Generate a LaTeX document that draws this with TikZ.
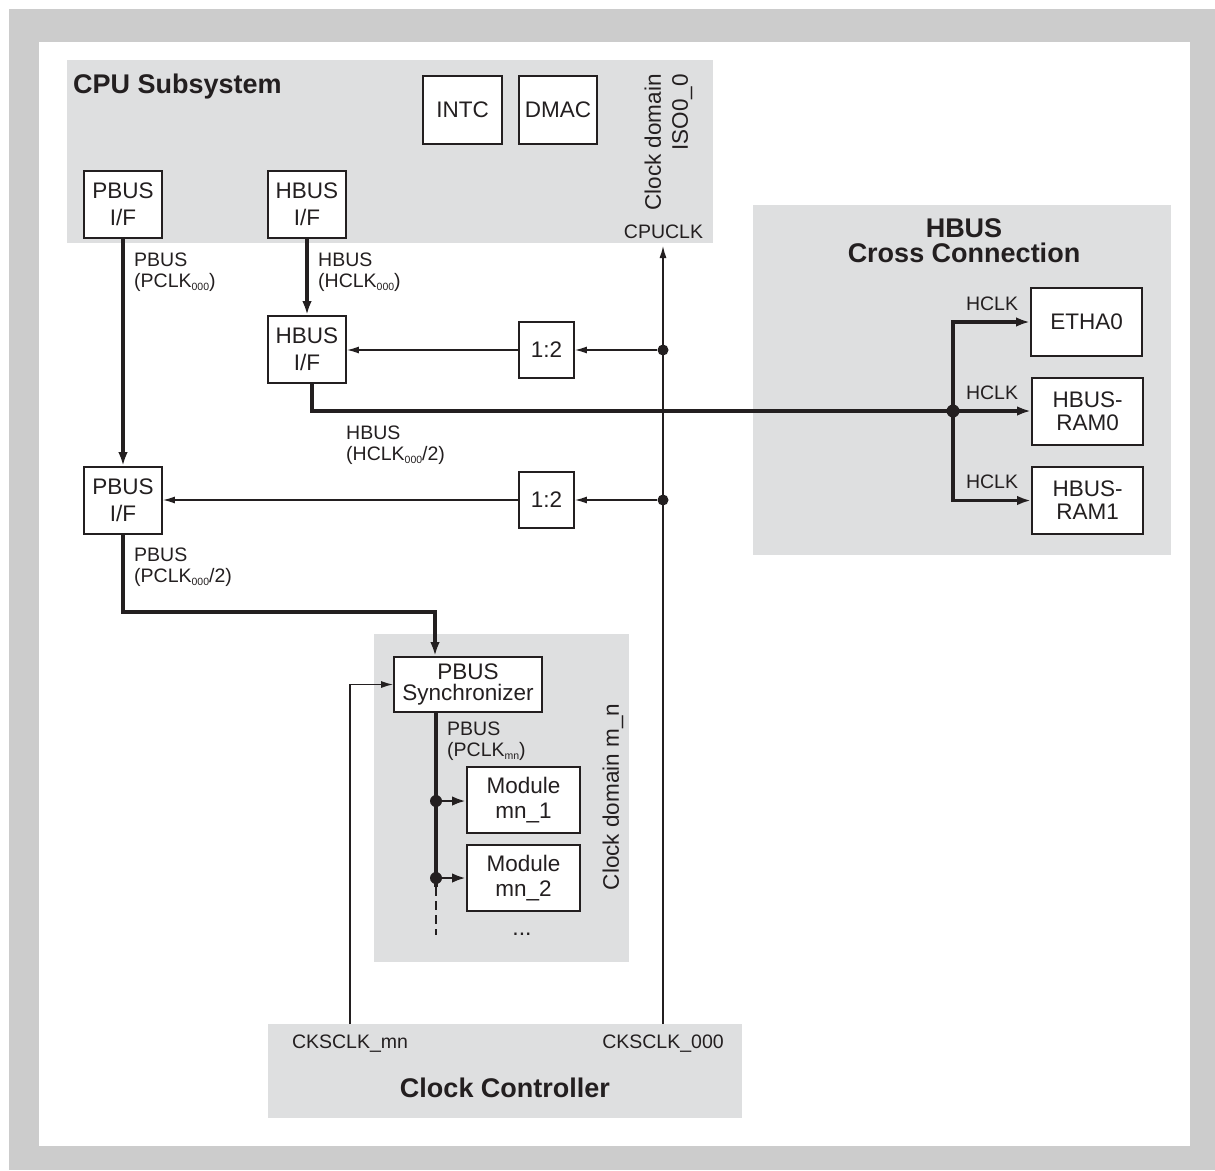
\documentclass[tikz,border=0pt]{standalone}
\usepackage{fontspec}
\setmainfont{Liberation Sans}
\usetikzlibrary{arrows.meta,calc}
\definecolor{ink}{HTML}{231F20}
\definecolor{framegray}{HTML}{CCCCCC}
\definecolor{zonegray}{HTML}{DEDFE0}
% lowered small index used in clock names
\newcommand{\lowsub}[1]{\raisebox{-3.5pt}{\fontsize{10.5}{10.5}\selectfont #1}}

\begin{document}
\begin{tikzpicture}[x=1pt,y=-1pt,
  zone/.style={fill=zonegray, draw=none, anchor=north west, inner sep=0pt},
  block/.style={draw=ink, line width=1.8pt, fill=white, text=ink, align=center,
    inner sep=0pt, font=\fontsize{22.5}{#1}\selectfont},
  block/.default=27,
  lbl/.style={text=ink, align=left, inner sep=0pt, anchor=north west,
    font=\fontsize{19.5}{20.5}\selectfont},
  tag/.style={text=ink, inner sep=0pt, font=\fontsize{19.5}{20}\selectfont},
  title/.style={text=ink, inner sep=0pt, align=center,
    font=\fontsize{27}{25}\selectfont\bfseries},
  vtext/.style={text=ink, inner sep=0pt, rotate=90,
    font=\fontsize{22.5}{27}\selectfont},
  dot/.style={circle, fill=ink, inner sep=0pt, minimum size=11pt},
  wire/.style={draw=ink, line width=1.3pt},
  wirearrow/.style={wire, -{Latex[length=12pt,width=7pt]}},
  bus/.style={draw=ink, line width=3.3pt},
  busarrow/.style={bus, -{Latex[length=14pt,width=9.5pt]}}
]
\useasboundingbox (0,0) rectangle (1215,1170);
% outer frame
\fill[white] (0,0) rectangle (1215,1170);
\fill[framegray] (9,9) rectangle (1215,1170);
\fill[white] (39,42) rectangle (1190,1146);

% shaded areas
\node[zone, minimum width=646pt, minimum height=183pt] (cpu) at (67,60) {};
\node[zone, minimum width=418pt, minimum height=350pt] (hcc) at (753,205) {};
\node[zone, minimum width=255pt, minimum height=328pt] (dmn) at (374,634) {};
\node[zone, minimum width=474pt, minimum height=94pt] (cc) at (268,1024) {};

% area titles
\node[title, anchor=base west] (cpuT) at (73,93) {CPU Subsystem};
\node[title] (hccT) at (964,240.5) {HBUS\\Cross Connection};
\node[title, anchor=base] (ccT) at (505,1097) {Clock Controller};
\node[vtext, align=right] (isoT) at (668.5,142.5) {Clock domain\\ISO0\_0};
\node[vtext] (dmnT) at (613,797) {Clock domain m\_n};

% blocks
\node[block, minimum width=78pt, minimum height=67pt] (pbusA) at (123,204.5) {PBUS\\I/F};
\node[block, minimum width=78pt, minimum height=67pt] (hbusA) at (307,204.5) {HBUS\\I/F};
\node[block, minimum width=79pt, minimum height=68pt] (intc) at (462.5,110) {INTC};
\node[block, minimum width=78pt, minimum height=68pt] (dmac) at (558,110) {DMAC};
\node[block, minimum width=78pt, minimum height=67pt] (hbusB) at (307,349.5) {HBUS\\I/F};
\node[block, minimum width=55pt, minimum height=56pt] (divA) at (546.5,350) {1:2};
\node[block, minimum width=55pt, minimum height=56pt] (divB) at (546.5,500) {1:2};
\node[block, minimum width=78pt, minimum height=67pt] (pbusB) at (123,500.5) {PBUS\\I/F};
\node[block, minimum width=111pt, minimum height=68pt] (etha) at (1086.5,322) {ETHA0};
\node[block=23, minimum width=111pt, minimum height=67pt] (ram0) at (1087.5,411.5) {HBUS-\\RAM0};
\node[block=23, minimum width=111pt, minimum height=67pt] (ram1) at (1087.5,500.5) {HBUS-\\RAM1};
\node[block=20.5, minimum width=148pt, minimum height=55pt] (sync) at (468,684.5) {PBUS\\Synchronizer};
\node[block=24.5, minimum width=113pt, minimum height=66pt] (mod1) at (523.5,800) {Module\\mn\_1};
\node[block=24.5, minimum width=113pt, minimum height=66pt] (mod2) at (523.5,878) {Module\\mn\_2};
\node[text=ink, inner sep=0pt, anchor=base, font=\fontsize{23}{27}\selectfont] (more) at (522,935) {...};

% clock signal names
\node[tag] (cpuclk) at (663.5,231.5) {CPUCLK};
\node[tag, anchor=base] (ckmn) at (350,1048) {CKSCLK\_mn};
\node[tag, anchor=base] (ck000) at (663,1048) {CKSCLK\_000};
\node[tag] (hclkA) at (992,304) {HCLK};
\node[tag] (hclkB) at (992,393) {HCLK};
\node[tag] (hclkC) at (992,482) {HCLK};

% bus labels
\node[lbl] (lPA) at (134,253) {PBUS\\(PCLK\lowsub{000})};
\node[lbl] (lHA) at (318,253) {HBUS\\(HCLK\lowsub{000})};
\node[lbl] (lHB) at (346,426) {HBUS\\(HCLK\lowsub{000}/2)};
\node[lbl] (lPB) at (134,548) {PBUS\\(PCLK\lowsub{000}/2)};
\node[lbl] (lPM) at (447,722) {PBUS\\(PCLK\lowsub{mn})};

% clock tree
\coordinate (cpuclkTip) at (663,246);
\draw[wirearrow] (cc.north -| ck000) -- (cpuclkTip);
\node[dot] (dA) at (663,350) {};
\node[dot] (dB) at (663,500) {};
\draw[wirearrow] (dA) -- (dA -| divA.east);
\draw[wirearrow] (divA.west) -- (divA.west -| hbusB.east);
\draw[wirearrow] (dB) -- (dB -| divB.east);
\draw[wirearrow] (divB.west) -- (divB.west -| pbusB.east);
\draw[wirearrow] (cc.north -| ckmn) |- (sync.west);

% HBUS
\draw[busarrow] (hbusA.south) -- (hbusB.north);
\node[dot, minimum size=13pt] (jn) at (953,411) {};
\draw[bus] ($(hbusB.south)+(5,0)$) |- (jn.center);
\draw[busarrow] (jn.center) |- (etha.west);
\draw[busarrow] (jn.center) |- (ram1.west);
\draw[busarrow] (jn.center) -- (jn -| ram0.west);

% PBUS
\draw[busarrow] (pbusA.south) -- (pbusB.north);
\coordinate (pturn) at (435,612);
\draw[busarrow] (pbusB.south) |- (pturn) -- (pturn |- sync.north);
\coordinate (mbusEnd) at (436,887);
\coordinate (mbusTail) at (436,935);
\draw[bus] (sync.south -| mbusEnd) -- (mbusEnd);
\draw[bus, line width=2.6pt, dash pattern=on 9pt off 5pt] (mbusEnd) -- (mbusTail);
\node[dot, minimum size=12pt] (m1) at (436,801) {};
\node[dot, minimum size=12pt] (m2) at (436,878) {};
\draw[busarrow, line width=2.8pt] (m1) -- (m1 -| mod1.west);
\draw[busarrow, line width=2.8pt] (m2) -- (m2 -| mod2.west);
\end{tikzpicture}
\end{document}
